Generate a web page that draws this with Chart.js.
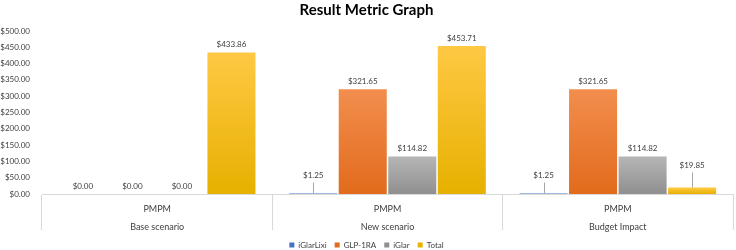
<!DOCTYPE html>
<html>
<head>
<meta charset="utf-8">
<script src="https://cdn.jsdelivr.net/npm/chart.js@4"></script>
<style>
  html, body { margin: 0; padding: 0; background: #fff; }
  #wrap { width: 736px; height: 250px; }
</style>
</head>
<body>
<div id="wrap"><canvas id="resultChart"></canvas></div>
<script>
// values
const scenarios = ['Base scenario', 'New scenario', 'Budget Impact'];
const metricLabel = 'PMPM';
const iglarlixi = [0, 1.25, 1.25];
const glp1ra = [0, 321.65, 321.65];
const iglar = [0, 114.82, 114.82];
const total = [433.86, 453.71, 19.85];

const FONT = 'Lato';
const money = v => '$' + v.toFixed(2);

// each bar gets its own top->bottom gradient, like the office theme fill
function barGradient(top, bottom) {
    return function(context) {
        const chart = context.chart;
        if (!chart.chartArea || context.raw === undefined) return bottom;
        const y = chart.scales.y;
        const yTop = y.getPixelForValue(context.raw);
        const yBase = y.getPixelForValue(0);
        if (yBase - yTop < 1) return bottom;
        const g = chart.ctx.createLinearGradient(0, yTop, 0, yBase);
        g.addColorStop(0, top);
        g.addColorStop(1, bottom);
        return g;
    };
}

// value labels above the bars, some pushed up with a leader line
const valueLabels = {
    id: 'valueLabels',
    afterDatasetsDraw(chart, args, opts) {
        const ctx = chart.ctx;
        ctx.save();
        ctx.font = '8px ' + FONT;
        ctx.fillStyle = '#404040';
        ctx.strokeStyle = '#a6a6a6';
        ctx.lineWidth = 1;
        ctx.textAlign = 'center';
        ctx.textBaseline = 'bottom';
        chart.data.datasets.forEach((ds, i) => {
            const meta = chart.getDatasetMeta(i);
            meta.data.forEach((bar, j) => {
                const lift = opts.lift[i + '-' + j] || 0;
                const y = bar.y - 4 - lift;
                ctx.fillText(money(ds.data[j]), bar.x, y);
                if (lift) {
                    ctx.beginPath();
                    ctx.moveTo(Math.round(bar.x) + 0.5, y + 3);
                    ctx.lineTo(Math.round(bar.x) + 0.5, bar.y);
                    ctx.stroke();
                }
            });
        });
        ctx.restore();
    }
};

const ctx = document.getElementById('resultChart').getContext('2d');
new Chart(ctx, {
    type: 'bar',
    data: {
        labels: scenarios.map(s => [metricLabel, s]),
        datasets: [
            { label: 'iGlarLixi', data: iglarlixi, backgroundColor: '#4472C4' },
            { label: 'GLP-1RA', data: glp1ra, backgroundColor: barGradient('#F28E4E', '#E26B1C') },
            { label: 'iGlar', data: iglar, backgroundColor: barGradient('#B6B6B6', '#8F8F8F') },
            { label: 'Total', data: total, backgroundColor: barGradient('#FFC844', '#E6B100') }
        ]
    },
    options: {
        responsive: true,
        maintainAspectRatio: false,
        animation: false,
        datasets: {
            bar: { categoryPercentage: 0.86, barPercentage: 0.97 }
        },
        layout: { padding: { left: 0, right: 3, top: 0, bottom: -9 } },
        scales: {
            x: {
                grid: {
                    offset: true,
                    drawOnChartArea: false,
                    tickLength: 36,
                    color: '#d9d9d9'
                },
                border: { display: true, color: '#d9d9d9' },
                ticks: {
                    padding: -30,
                    color: '#404040',
                    font: { family: FONT, size: 9, lineHeight: 2 }
                },
                afterFit: scale => { scale.height = 39; }
            },
            y: {
                min: 0,
                max: 500,
                grid: { display: false },
                border: { display: false },
                ticks: {
                    stepSize: 50,
                    padding: 4,
                    color: '#404040',
                    font: { family: FONT, size: 8 },
                    callback: v => money(v)
                },
                afterFit: scale => { scale.width = 42; }
            }
        },
        plugins: {
            title: {
                display: true,
                text: 'Result Metric Graph',
                color: '#000',
                font: { family: FONT, size: 15, weight: 'bold' },
                padding: { top: 1, bottom: 12 }
            },
            legend: {
                position: 'bottom',
                labels: {
                    boxWidth: 5,
                    boxHeight: 5,
                    padding: 8,
                    color: '#404040',
                    font: { family: FONT, size: 8 }
                }
            },
            tooltip: { enabled: false },
            valueLabels: { lift: { '0-1': 10, '0-2': 10, '3-2': 14 } }
        }
    },
    plugins: [valueLabels]
});
</script>
</body>
</html>
